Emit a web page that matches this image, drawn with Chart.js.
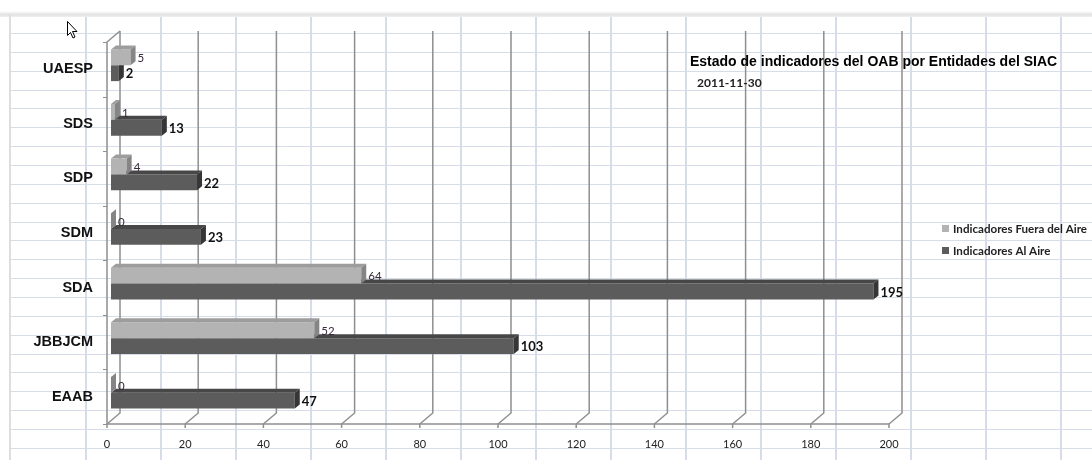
<!DOCTYPE html>
<html>
<head>
<meta charset="utf-8">
<script src="https://cdn.jsdelivr.net/npm/chart.js@4.4.0/dist/chart.umd.min.js"></script>
<style>
  html, body { margin: 0; padding: 0; background: #ffffff; }
  #wrap { position: relative; width: 1092px; height: 460px; }
</style>
</head>
<body>
<div id="wrap"><canvas id="c" width="1092" height="460"></canvas></div>
<script>
// ---- data ----
const categories = ['UAESP', 'SDS', 'SDP', 'SDM', 'SDA', 'JBBJCM', 'EAAB'];
const fueraDelAire = [5, 1, 4, 0, 64, 52, 0];
const alAire = [2, 13, 22, 23, 195, 103, 47];
const xMin = 0, xMax = 200, xStep = 20;
const titleText = 'Estado de indicadores del OAB por Entidades del SIAC';
const subtitleText = '2011-11-30';
const seriesNames = ['Indicadores Fuera del Aire', 'Indicadores Al Aire'];

// ---- styles ----
const faces = [
  { front: '#b3b3b3', top: '#9d9d9d', side: '#858585' },
  { front: '#5c5c5c', top: '#474747', side: '#363636' }
];
const D = { dx: 5, dy: 4 };       // bar depth
const W = { dx: 13, dy: 11 };     // wall depth
const frameColor = '#8f8f8f';

const sheetPlugin = {
  id: 'sheet',
  beforeDraw(chart) {
    const ctx = chart.ctx;
    ctx.save();
    ctx.fillStyle = '#ffffff';
    ctx.fillRect(0, 0, chart.width, chart.height);
    // window shadow
    const g = ctx.createLinearGradient(0, 11, 0, 17);
    g.addColorStop(0, '#ffffff');
    g.addColorStop(0.6, '#e2e2e2');
    g.addColorStop(1, '#f0f0f0');
    ctx.fillStyle = g;
    ctx.fillRect(0, 11, chart.width, 6);
    ctx.fillStyle = '#ffffff';
    ctx.fillRect(0, 17, 9, chart.height);
    ctx.fillStyle = '#dedede';
    ctx.fillRect(9, 15, 2, chart.height);
    // spreadsheet grid
    ctx.strokeStyle = '#d6dce8';
    ctx.lineWidth = 1;
    for (let i = 0; i < 24; i++) {
      const y = Math.round(33 + i * 18.86) + 0.5;
      ctx.beginPath(); ctx.moveTo(11, y); ctx.lineTo(chart.width, y); ctx.stroke();
    }
    ctx.lineWidth = 2;
    for (let x = 86; x < chart.width; x += 75) {
      ctx.beginPath(); ctx.moveTo(x, 17); ctx.lineTo(x, chart.height); ctx.stroke();
    }
    ctx.restore();
  }
};

const framePlugin = {
  id: 'frame3d',
  beforeDatasetsDraw(chart) {
    const ctx = chart.ctx, xs = chart.scales.x, a = chart.chartArea;
    const F = v => xs.getPixelForValue(v) - 4;
    const floorY = a.bottom + 4, topY = a.top + 4;
    ctx.save();
    ctx.strokeStyle = frameColor;
    ctx.lineWidth = 1.5;
    for (let v = xMin; v <= xMax; v += xStep) {
      const f = F(v), b = f + W.dx;
      ctx.beginPath();
      ctx.moveTo(b, topY - W.dy);
      ctx.lineTo(b, floorY - W.dy);
      ctx.lineTo(f, floorY);
      ctx.lineTo(f, floorY + 4);
      ctx.stroke();
    }
    ctx.beginPath();
    ctx.moveTo(F(xMin), floorY); ctx.lineTo(F(xMax), floorY);
    ctx.moveTo(F(xMin), floorY); ctx.lineTo(F(xMin), topY);
    ctx.lineTo(F(xMin) + W.dx, topY - W.dy);
    ctx.stroke();
    const n = categories.length, ch = (floorY - topY) / n;
    ctx.lineWidth = 1;
    for (let k = 0; k <= n; k++) {
      const y = Math.round(topY + k * ch) + 0.5;
      ctx.beginPath(); ctx.moveTo(F(xMin) - 4, y); ctx.lineTo(F(xMin), y); ctx.stroke();
    }
    ctx.restore();
  },
  afterDatasetDraw(chart, args) {
    const ctx = chart.ctx, meta = args.meta, f = faces[args.index];
    ctx.save();
    meta.data.forEach(el => {
      const p = el.getProps(['x', 'y', 'base', 'height'], true);
      const t = p.y - p.height / 2, b = p.y + p.height / 2;
      ctx.fillStyle = f.top;
      ctx.beginPath();
      ctx.moveTo(p.base, t); ctx.lineTo(p.base + D.dx, t - D.dy);
      ctx.lineTo(p.x + D.dx, t - D.dy); ctx.lineTo(p.x, t); ctx.closePath(); ctx.fill();
      ctx.fillStyle = f.side;
      ctx.beginPath();
      ctx.moveTo(p.x, t); ctx.lineTo(p.x + D.dx, t - D.dy);
      ctx.lineTo(p.x + D.dx, b - D.dy); ctx.lineTo(p.x, b); ctx.closePath(); ctx.fill();
    });
    ctx.restore();
  },
  afterDatasetsDraw(chart) {
    const ctx = chart.ctx;
    ctx.save();
    ctx.textBaseline = 'middle';
    ctx.textAlign = 'left';
    chart.data.datasets.forEach((ds, i) => {
      const meta = chart.getDatasetMeta(i);
      meta.data.forEach((el, j) => {
        const p = el.getProps(['x', 'y'], true);
        if (i === 0) { ctx.font = '11.5px Lato, "Open Sans", sans-serif'; ctx.fillStyle = '#3a2a3a'; }
        else { ctx.font = 'bold 13px Lato, "Open Sans", sans-serif'; ctx.fillStyle = '#111111'; }
        ctx.fillText(String(ds.data[j]), p.x + D.dx + 2, p.y + 1);
      });
    });
    // title
    ctx.fillStyle = '#000000';
    ctx.font = 'bold 14px "Liberation Sans", Arial, sans-serif';
    ctx.fillText(titleText, 690, 62);
    ctx.font = 'bold 12px Lato, sans-serif';
    ctx.fillStyle = '#222222';
    ctx.fillText(subtitleText, 697, 83);
    // legend
    chart.data.datasets.forEach((ds, i) => {
      const y = 229 + i * 22;
      ctx.fillStyle = ds.backgroundColor;
      ctx.fillRect(942, y - 4, 7, 7);
      ctx.fillStyle = '#222222';
      ctx.font = 'bold 11.6px Lato, sans-serif';
      ctx.fillText(ds.label, 953, y);
    });
    // mouse cursor
    ctx.beginPath();
    ctx.moveTo(67.5, 21.5); ctx.lineTo(67.5, 35.5); ctx.lineTo(70.5, 32.5);
    ctx.lineTo(73, 38); ctx.lineTo(75, 37); ctx.lineTo(72.5, 31.5); ctx.lineTo(77, 31.5);
    ctx.closePath();
    ctx.fillStyle = '#ffffff'; ctx.fill();
    ctx.strokeStyle = '#000000'; ctx.lineWidth = 1; ctx.stroke();
    ctx.restore();
  }
};

new Chart(document.getElementById('c'), {
  type: 'bar',
  data: {
    labels: categories,
    datasets: [
      { label: seriesNames[0], data: fueraDelAire, backgroundColor: faces[0].front, borderWidth: 0 },
      { label: seriesNames[1], data: alAire, backgroundColor: faces[1].front, borderWidth: 0 }
    ]
  },
  options: {
    indexAxis: 'y',
    responsive: false,
    animation: false,
    events: [],
    layout: { padding: { left: 0, right: 199, top: 38, bottom: 0 } },
    datasets: { bar: { categoryPercentage: 0.58, barPercentage: 1 } },
    plugins: { legend: { display: false }, title: { display: false }, tooltip: { enabled: false } },
    scales: {
      x: {
        min: xMin, max: xMax,
        grid: { display: false, drawTicks: false },
        border: { display: false },
        afterFit(s) { s.height = 40; },
        ticks: {
          stepSize: xStep,
          padding: 18,
          labelOffset: -4,
          color: '#222222',
          font: { family: 'Lato, "Open Sans", sans-serif', size: 11 }
        }
      },
      y: {
        grid: { display: false, drawTicks: false },
        border: { display: false },
        afterFit(s) { s.width = 111; },
        ticks: {
          padding: 18,
          labelOffset: 4,
          color: '#111111',
          font: { family: '"Liberation Sans", Arial, sans-serif', size: 14.5, weight: 'bold' }
        }
      }
    }
  },
  plugins: [sheetPlugin, framePlugin]
});
</script>
</body>
</html>
